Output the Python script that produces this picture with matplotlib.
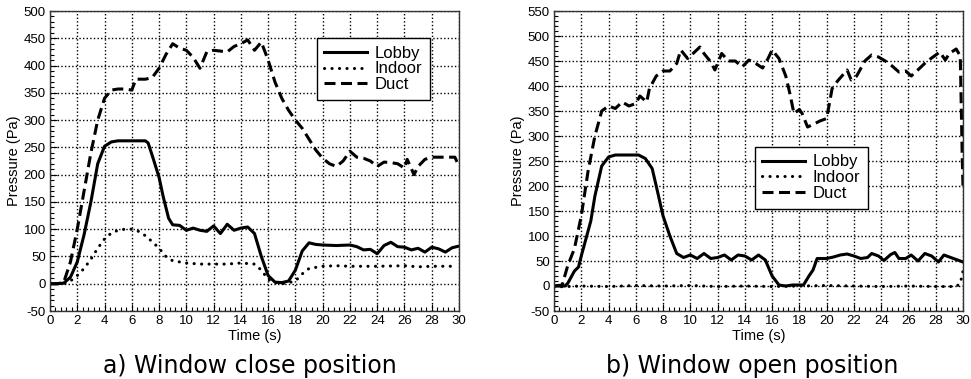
import matplotlib
matplotlib.use("Agg")
import matplotlib.pyplot as plt
from matplotlib.ticker import MultipleLocator

plt.rcParams['font.family'] = ['Liberation Sans', 'DejaVu Sans']
plt.rcParams['axes.unicode_minus'] = False

# ---------------- (a) Window close position ----------------
a_duct_t = [0, 0.5, 1.0, 1.5, 2.0, 2.5, 3.0, 3.5, 4.0, 4.5, 5.0, 5.5, 6.0, 6.3, 7.0, 7.5, 8.0, 8.5,
            9.0, 9.5, 10.0, 10.5, 11.0, 11.5, 12.0, 13.0, 13.5, 14.0, 14.5, 15.0, 15.5, 16.0, 16.5,
            17.0, 17.5, 18.0, 18.5, 19.0, 19.5, 20.0, 20.5, 21.0, 21.5, 22.0, 22.5, 23.0, 23.5,
            24.0, 24.5, 25.0, 25.5, 26.0, 26.2, 26.7, 27.0, 27.5, 28.0, 29.0, 29.7, 30.0]
a_duct_p = [0, 0, 2, 40, 100, 170, 240, 300, 340, 355, 357, 357, 355, 375, 375, 378, 395, 420,
            440, 432, 428, 415, 395, 425, 428, 425, 435, 440, 447, 428, 443, 410, 370,
            340, 318, 300, 285, 265, 245, 230, 220, 215, 225, 243, 232, 230, 225,
            215, 223, 222, 220, 212, 228, 200, 215, 228, 232, 232, 232, 215]

a_lobby_t = [0, 0.5, 1.0, 1.5, 2.0, 2.5, 3.0, 3.5, 4.0, 4.5, 5.0, 7.0, 7.2, 7.5, 8.0, 8.3, 8.7,
             9.0, 9.5, 10.0, 10.5, 11.0, 11.5, 12.0, 12.5, 13.0, 13.5, 14.0, 14.5, 15.0, 15.5,
             16.0, 16.5, 17.0, 17.5, 18.0, 18.5, 19.0, 19.5, 20.0, 21.0, 22.0, 22.5, 23.0, 23.5,
             24.0, 24.5, 25.0, 25.5, 26.0, 26.5, 27.0, 27.5, 28.0, 28.5, 29.0, 29.5, 30.0]
a_lobby_p = [0, 0, 1, 12, 40, 90, 150, 220, 252, 260, 262, 262, 258, 235, 195, 160, 120,
             108, 107, 98, 102, 98, 96, 106, 92, 109, 98, 102, 104, 92, 50,
             15, 3, 2, 5, 25, 60, 75, 72, 71, 70, 71, 68, 62, 63,
             55, 70, 76, 68, 67, 62, 65, 58, 67, 64, 58, 66, 69]

a_indoor_t = [0, 0.5, 1.0, 1.5, 2.0, 2.5, 3.0, 3.5, 4.0, 4.5, 5.0, 5.5, 6.0, 6.5, 7.0, 7.5, 8.0,
              8.5, 9.0, 10.0, 11.0, 12.0, 13.0, 14.0, 15.0, 15.5, 16.0, 16.5, 17.0, 17.5, 18.0,
              18.5, 19.0, 20.0, 21.0, 22.0, 24.0, 26.0, 27.0, 28.0, 29.5]
a_indoor_p = [0, 0, 0, 5, 15, 28, 45, 65, 82, 93, 98, 100, 100, 96, 88, 77, 65,
              50, 42, 38, 36, 36, 36, 38, 36, 25, 8, 2, 0, 2, 5,
              18, 28, 32, 33, 32, 32, 33, 31, 32, 32]

# ---------------- (b) Window open position ----------------
b_duct_t = [0, 0.6, 1.0, 1.5, 2.0, 2.5, 3.0, 3.5, 4.0, 4.5, 5.0, 5.5, 6.0, 6.3, 6.8, 7.0, 7.5,
            8.0, 8.5, 9.0, 9.3, 9.8, 10.2, 10.7, 11.0, 11.5, 11.8, 12.3, 12.8, 13.3, 13.8, 14.3,
            14.8, 15.3, 15.7, 16.0, 16.5, 17.0, 17.3, 17.6, 18.0, 18.2, 18.6, 19.0, 19.5, 20.0,
            20.4, 20.8, 21.5, 21.8, 22.2, 22.8, 23.3, 23.8, 24.3, 24.8, 25.3, 25.8, 26.2, 26.8,
            27.3, 27.8, 28.3, 28.7, 29.0, 29.5, 29.8, 29.95, 30.0]
b_duct_p = [0, 2, 40, 75, 140, 230, 300, 350, 360, 355, 368, 360, 365, 380, 368, 395, 420,
            430, 430, 445, 472, 455, 465, 478, 465, 448, 432, 465, 450, 450, 438, 452,
            445, 436, 455, 472, 455, 420, 385, 345, 353, 345, 318, 323, 330, 335,
            395, 410, 432, 412, 420, 450, 462, 458, 450, 440, 428, 430, 420, 435,
            448, 458, 468, 452, 465, 474, 460, 250, 200]

b_lobby_t = [0, 0.8, 1.0, 1.5, 1.8, 2.0, 2.3, 2.7, 3.0, 3.5, 4.0, 4.5, 6.2, 6.7, 7.2, 7.5, 8.0,
             8.5, 9.0, 9.5, 10.0, 10.5, 11.0, 11.5, 12.0, 12.5, 13.0, 13.5, 14.0, 14.5, 15.0,
             15.5, 16.0, 16.5, 17.0, 17.5, 18.3, 18.7, 19.0, 19.3, 20.0, 20.5, 21.0, 21.5, 22.0,
             22.5, 23.0, 23.3, 23.8, 24.2, 24.7, 25.0, 25.3, 25.8, 26.2, 26.7, 27.2, 27.7, 28.2,
             28.6, 29.0, 29.5, 30.0]
b_lobby_p = [0, 0, 5, 30, 38, 60, 90, 130, 180, 240, 258, 262, 262, 255, 235, 200, 140,
             100, 65, 57, 62, 55, 65, 55, 57, 62, 52, 62, 60, 52, 62,
             52, 20, 2, 0, 2, 2, 20, 32, 55, 55, 58, 62, 64, 60,
             55, 57, 65, 60, 51, 63, 67, 55, 55, 62, 50, 65, 60, 48,
             62, 58, 53, 48]

b_indoor_t = [0, 2, 4, 6, 8, 10, 12, 14, 16, 18, 20, 22, 24, 26, 28, 29.5, 29.8, 30.0]
b_indoor_p = [-2, 0, -1, 1, 0, 1, -1, 0, -1, 0, 1, 0, -1, 0, -1, -1, 5, 30]

x_ticks = list(range(0, 31, 2))
a_yticks = list(range(-50, 501, 50))
b_yticks = list(range(-50, 551, 50))
legend_labels = ['Lobby', 'Indoor', 'Duct']
titles = ['a) Window close position', 'b) Window open position']

fig = plt.figure(figsize=(9.71, 3.79), dpi=100)
W, H = 971, 379

def make_axes(left_px, right_px, top_px, bottom_px):
    return fig.add_axes([left_px / W, 1 - bottom_px / H,
                         (right_px - left_px) / W, (bottom_px - top_px) / H])

axA = make_axes(50, 459, 11, 311)
axB = make_axes(554, 963, 11, 311)

lw = 2.2
dash_style = (0, (3.6, 1.8))
dot_style = (0, (0.05, 2.4))

def draw(ax, lt, lp, it, ip, dt, dp, yticks, leg_anchor):
    ax.plot(lt, lp, color='black', lw=lw, solid_joinstyle='round', label=legend_labels[0])
    ax.plot(it, ip, color='black', lw=lw, linestyle=dot_style, dash_capstyle='round',
            label=legend_labels[1])
    ax.plot(dt, dp, color='black', lw=lw, linestyle=dash_style, dash_capstyle='butt',
            label=legend_labels[2])
    ax.set_xlim(0, 30)
    ax.set_ylim(yticks[0], yticks[-1])
    ax.set_xticks(x_ticks)
    ax.set_yticks(yticks)
    ax.xaxis.set_minor_locator(MultipleLocator(0.4))
    ax.yaxis.set_minor_locator(MultipleLocator(10))
    ax.tick_params(which='both', direction='in', top=False, right=False, colors='black',
                   labelsize=9.5, pad=3)
    ax.tick_params(which='major', length=5, width=0.8)
    ax.tick_params(which='minor', length=3, width=0.8)
    ax.grid(True, which='major', linestyle=(0, (1, 1.6)), color='black', linewidth=1.0)
    for s in ax.spines.values():
        s.set_color('#333333')
        s.set_linewidth(1.0)
    ax.set_xlabel('Time (s)', fontsize=10.5, labelpad=1)
    ax.set_ylabel('Pressure (Pa)', fontsize=10.5, labelpad=2)
    leg = ax.legend(loc='upper right', bbox_to_anchor=leg_anchor, borderaxespad=0,
                    fontsize=12, frameon=True, fancybox=False, edgecolor='black',
                    framealpha=1, handlelength=2.6, handletextpad=0.45, borderpad=0.45,
                    labelspacing=0.05)
    leg.get_frame().set_linewidth(1.0)

draw(axA, a_lobby_t, a_lobby_p, a_indoor_t, a_indoor_p, a_duct_t, a_duct_p, a_yticks, (0.929, 0.91))
draw(axB, b_lobby_t, b_lobby_p, b_indoor_t, b_indoor_p, b_duct_t, b_duct_p, b_yticks, (0.768, 0.547))

fig.text(250 / W, 1 - 366 / H, titles[0], ha='center', va='center', fontsize=17,
         family=['DejaVu Sans'])
fig.text(752 / W, 1 - 366 / H, titles[1], ha='center', va='center', fontsize=17,
         family=['DejaVu Sans'])

fig.savefig('out.png', dpi=100)
